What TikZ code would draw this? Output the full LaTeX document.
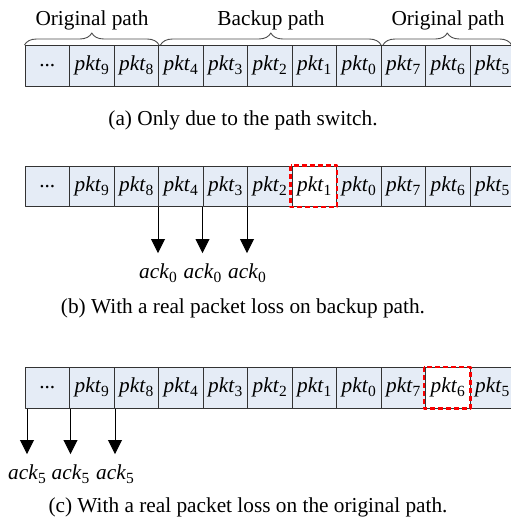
\documentclass[tikz,border=0pt]{standalone}
\usepackage{fontspec}
\setmainfont{Liberation Serif}
\usetikzlibrary{arrows.meta,decorations.pathreplacing}

\definecolor{cellblue}{RGB}{229,236,246}
\definecolor{lossred}{RGB}{250,0,0}

\newcommand{\figfont}{\fontsize{21.3}{25}\selectfont}
\newcommand{\low}[1]{\raisebox{-4pt}{\fontsize{15.5}{16}\selectfont #1}}
\newcommand{\pkt}[1]{\textit{pkt}\low{#1}}
\newcommand{\ack}[1]{\textit{ack}\low{#1}}
\newcommand{\more}{...}

\begin{document}
\begin{tikzpicture}[
  x=1pt, y=-1pt,
  line join=round,
  cell/.style={draw=black!80, fill=cellblue, line width=1.1pt, minimum width=44.5pt,
    minimum height=40.5pt, inner sep=0pt, anchor=north west, font=\figfont},
  misscell/.style={cell, fill=white},
  lost/.style={draw=lossred, line width=2.6pt, dash pattern=on 5pt off 3pt},
  brace/.style={draw=black!70, line width=0.9pt,
    decorate, decoration={brace, amplitude=12pt}},
  lab/.style={font=\figfont, inner sep=0pt, anchor=base},
  ackarrow/.style={draw=black, line width=0.9pt,
    -{Triangle[width=14pt,length=14pt]}, shorten >=10pt}
]

\useasboundingbox (0,0) rectangle (511,523);

% --- Parameters ---
\def\W{44.5}     % cell width
\def\X{24.5}     % left edge of the queues
\def\pkts{\more,\pkt{9},\pkt{8},\pkt{4},\pkt{3},\pkt{2},\pkt{1},\pkt{0},\pkt{7},\pkt{6},\pkt{5}}

% --- Queues (a), (b), (c); the lost packet is left white ---
\foreach \rw/\ytop/\miss in {a/45/-1, b/165.5/6, c/367/9} {
  \foreach \lab [count=\i from 0] in \pkts {
    \ifnum\i=\miss\relax \def\cellst{misscell}\else\def\cellst{cell}\fi
    \node[\cellst] (\rw\i) at ({\X+\i*\W},\ytop) {\lab};
  }
}

% --- Lost packets ---
\draw[lost] ([xshift=-1pt]b6.north west) rectangle (b6.south east);
\draw[lost] ([xshift=-1pt]c9.north west) rectangle (c9.south east);

% --- Paths over queue (a) ---
\draw[brace] (a0.north west) -- (a2.north east);
\draw[brace] ([xshift=2.5pt]a3.north west) -- ([xshift=-0.5pt]a7.north east);
\draw[brace] ([xshift=2.5pt]a8.north west) -- ([xshift=-3.5pt]a10.north east);
\node[lab] (orig1) at (92,25) {Original path};
\node[lab] (backup) at (271,25) {Backup path};
\node[lab] (orig2) at (448,25) {Original path};

% --- Duplicate acks in (b) ---
\node[lab] (kb1) at (b3.south west |- 0,278) {\ack{0}};
\node[lab] (kb2) at (b4.south west |- 0,278) {\ack{0}};
\node[lab] (kb3) at (b5.south west |- 0,278) {\ack{0}};
\draw[ackarrow] (b3.south west) -- (kb1.north);
\draw[ackarrow] (b4.south west) -- (kb2.north);
\draw[ackarrow] (b5.south west) -- (kb3.north);

% --- Duplicate acks in (c) ---
\coordinate (c0b) at ([xshift=2.5pt]c0.south west);
\coordinate (c1b) at ([xshift=1.5pt]c1.south west);
\coordinate (c2b) at ([xshift=1.5pt]c2.south west);
\node[lab] (kc1) at (c0b |- 0,479) {\ack{5}};
\node[lab] (kc2) at (c1b |- 0,479) {\ack{5}};
\node[lab] (kc3) at (c2b |- 0,479) {\ack{5}};
\draw[ackarrow] (c0b) -- (kc1.north);
\draw[ackarrow] (c1b) -- (kc2.north);
\draw[ackarrow] (c2b) -- (kc3.north);

% --- Captions ---
\node[lab] (capa) at (243,125) {(a) Only due to the path switch.};
\node[lab] (capb) at (243,313) {(b) With a real packet loss on backup path.};
\node[lab] (capc) at (248,512) {(c) With a real packet loss on the original path.};
\end{tikzpicture}
\end{document}
